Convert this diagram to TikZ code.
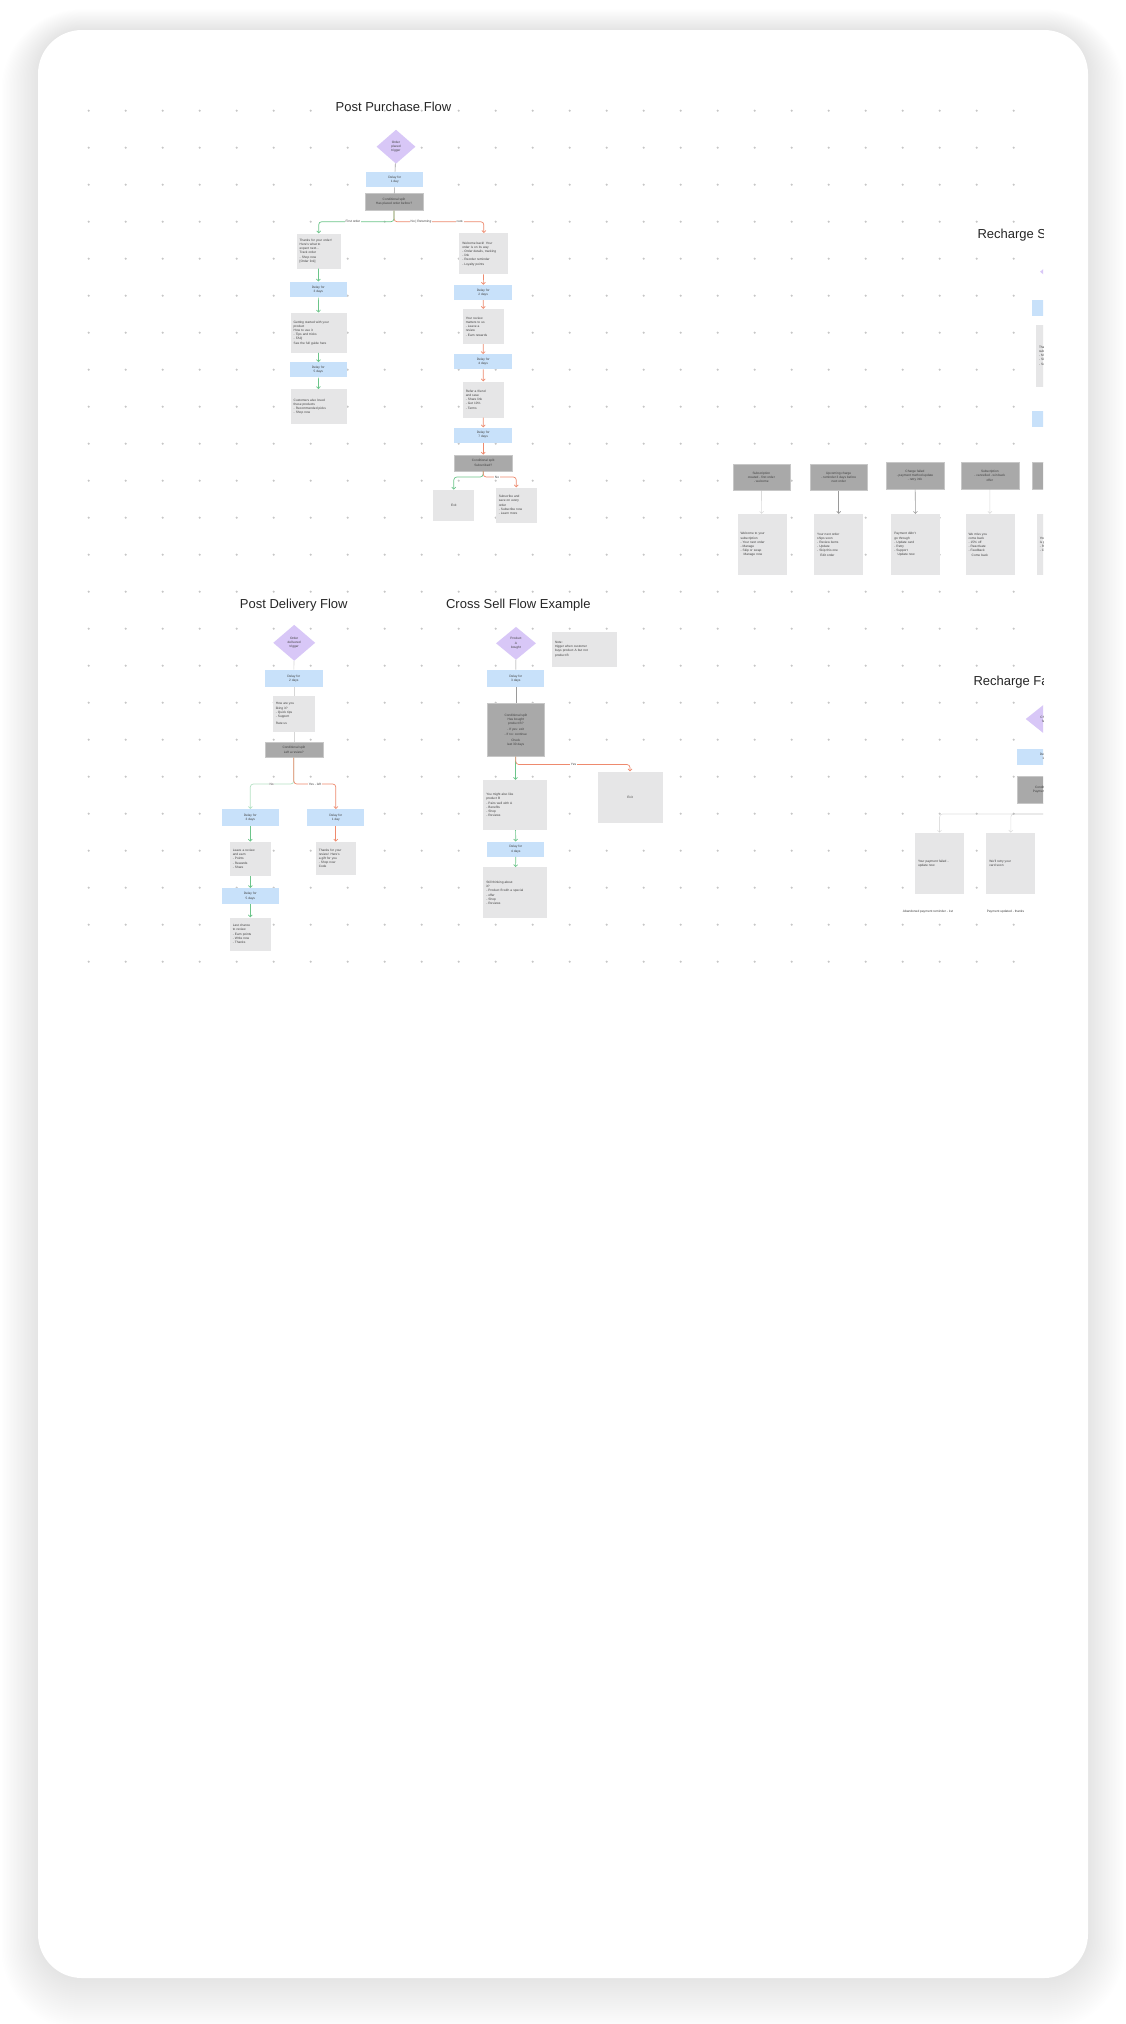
\documentclass[tikz,border=0pt]{standalone}
\usepackage{fontspec}
\setmainfont{Liberation Sans}
\usetikzlibrary{shapes.geometric,arrows.meta}
\definecolor{lav}{HTML}{D8C7F7}
\definecolor{lblue}{HTML}{C8E1FA}
\definecolor{dgrey}{HTML}{A9A9A9}
\definecolor{lgrey}{HTML}{E6E6E7}
\definecolor{dotc}{HTML}{C6C6C6}
\definecolor{grn}{HTML}{6CC58A}
\definecolor{rd}{HTML}{EE8A6E}
\definecolor{lnc}{HTML}{9A9A9A}
\tikzset{
  every node/.style={font=\fontsize{3.2}{4.2}\selectfont, text=black!75},
  ttl/.style={font=\fontsize{13}{15}\selectfont, text=black!85, inner sep=0pt},
  dia/.style={diamond, fill=lav, inner sep=0pt, align=center},
  bbox/.style={rectangle, fill=lblue, inner sep=0pt, align=center},
  dbox/.style={rectangle, fill=dgrey, draw=black!22, line width=0.4, inner sep=0pt, align=center},
  gbox/.style={rectangle, fill=lgrey, inner xsep=3pt, inner ysep=2pt, align=left},
  gb/.style 2 args={gbox, text width=#1, minimum height=#2},
  cn/.style={draw=lnc, line width=0.6},
  cna/.style={cn, -{Straight Barb[length=2pt,width=4pt]}},
  ag/.style={draw=grn, line width=0.7, -{Straight Barb[length=2pt,width=4pt]}},
  ar/.style={draw=rd, line width=0.7, -{Straight Barb[length=2pt,width=4pt]}},
  lbl/.style={fill=white, inner sep=0.6pt, font=\fontsize{3.2}{4}\selectfont},
  captxt/.style={inner sep=0pt, font=\fontsize{3.2}{4}\selectfont}
}
\begin{document}
\begin{tikzpicture}[x=1pt,y=-1pt]
\useasboundingbox (0,0) rectangle (1126,2024);
\fill[white] (0,0) rectangle (1126,2024);
% soft card shadow
\foreach \k in {1,...,26} {
  \fill[black, opacity=0.0028, rounded corners={44+1.4*\k}]
    ({38-1.4*\k},{30-1.4*\k+0.6*\k}) rectangle ({1088+1.4*\k},{1978+1.4*\k+0.6*\k});
}
% card
\fill[white, rounded corners=44] (38,30) rectangle (1088,1978);

\begin{scope}
\clip (38,30) rectangle (1043,1978);
% dot grid
\foreach \i in {0,...,25} {
  \foreach \j in {0,...,23} {
    \fill[dotc] ({88.7+37*\i},{110.7+37*\j}) circle (1.2);
  }
}

% ================= Post Purchase Flow =================
\node[ttl] (ppt) at (393.5,106.7) {Post Purchase Flow};
\node[dia, minimum width=39, minimum height=34] (ppd) at (396,146.7) {Order\\placed\\trigger};
\node[bbox, minimum width=57, minimum height=15.6] (pp1) at (394.7,179.5) {Delay for\\1 day};
\node[dbox, minimum width=58, minimum height=16.7] (pp2) at (394,202) {Conditional split\\Has placed order before?};

\node[gb={38pt}{35pt}] (l1) at (318.7,251) {Thanks for your order!\\Here's what to\\expect next...\\Track order\\- Shop now\\{[}Order link{]}};
\node[bbox, minimum width=57, minimum height=15.6] (l2) at (318.3,289.5) {Delay for\\3 days};
\node[gb={50pt}{40pt}] (l3) at (318.7,332.7) {Getting started with your\\product\\How to use it\\- Tips and tricks\\- FAQ\\See the full guide here};
\node[bbox, minimum width=57, minimum height=15] (l4) at (318.3,369.8) {Delay for\\5 days};
\node[gb={50pt}{35pt}] (l5) at (318.7,406.7) {Customers also loved\\these products\\- Recommended picks\\- Shop now};

\node[gb={43pt}{41pt}] (r1) at (483.8,253.7) {Welcome back! Your\\order is on its way\\- Order details, tracking\\- link\\- Reorder reminder\\- Loyalty points};
\node[bbox, minimum width=58, minimum height=15] (r2) at (483.2,292.5) {Delay for\\2 days};
\node[gb={35pt}{35pt}] (r3) at (483.3,326.5) {Your review\\matters to us\\- Leave a\\review\\- Earn rewards};
\node[bbox, minimum width=58, minimum height=15] (r4) at (483.2,361.7) {Delay for\\4 days};
\node[gb={35pt}{36pt}] (r5) at (483.3,399.5) {Refer a friend\\and save\\- Share link\\- Get 10\%\\- Terms};
\node[bbox, minimum width=58, minimum height=15] (r6) at (483.2,435) {Delay for\\7 days};
\node[dbox, minimum width=58, minimum height=16] (r7) at (483.2,462.8) {Conditional split\\Subscribed?};
\node[gb={35pt}{31pt}, align=center] (r8a) at (453.8,505.3) {Exit};
\node[gb={35pt}{35pt}] (r8b) at (516.3,505) {Subscribe and\\save on every\\order\\- Subscribe now\\- Learn more};

\coordinate (ppb) at (394,221.7);
\draw[ar, rounded corners=3] (pp2.south) -- (ppb) -| (r1.north);
\draw[ag, rounded corners=3] (pp2.south) -- (ppb) -| (l1.north);
\node[lbl] (ppy) at (353,221.7) {First order};
\node[lbl] (ppn) at (421,221.7) {No | Returning};
\node[lbl] (ppn2) at (460,221.7) {cust.};
\draw[cn] (ppd) -- (pp1);
\draw[cn] (pp1) -- (pp2);
\draw[ag] (l1) -- (l2);
\draw[ag] (l2) -- (l3);
\draw[ag] (l3) -- (l4);
\draw[ag] (l4) -- (l5);
\draw[ar] (r1) -- (r2);
\draw[ar] (r2) -- (r3);
\draw[ar] (r3) -- (r4);
\draw[ar] (r4) -- (r5);
\draw[ar] (r5) -- (r6);
\draw[ar] (r6) -- (r7);
\coordinate (r7b) at (483.2,477);
\draw[ag, rounded corners=3] (r7.south) -- (r7b) -| (r8a.north);
\draw[ar, rounded corners=3] (r7.south) -- (r7b) -| (r8b.north);
\node[lbl] (r7n) at (497,477) {No};

% ================= Recharge S =================
\node[ttl, anchor=west] (rst) at (977.3,235) {Recharge Subscription Flow};
\node[dia, minimum width=40, minimum height=33] (rsd) at (1060,271.7) {Sub\\created};
\node[bbox, minimum width=58, minimum height=16] (rs1) at (1061,308) {Delay for\\1 day};
\node[gb={43pt}{62pt}] (rs2) at (1060.5,355.8) {Thanks for\\subscribing\\- Manage\\- Skip\\- Swap};
\node[bbox, minimum width=58, minimum height=16] (rs3) at (1061,418.7) {Delay for\\2 days};
\draw[cn] (rsd) -- (rs1);
\draw[cn] (rs1) -- (rs2);
\draw[cn] (rs2) -- (rs3);

\node[dbox, minimum width=57, minimum height=26] (d1) at (761.3,477.5) {Subscription\\created - first order\\- welcome};
\node[dbox, minimum width=57, minimum height=26] (d2) at (838.7,477.5) {Upcoming charge\\- reminder 3 days before\\next order};
\node[dbox, minimum width=58, minimum height=27] (d3) at (915,475.7) {Charge failed\\- payment method update\\- retry info};
\node[dbox, minimum width=58, minimum height=27] (d4) at (989.8,475.7) {Subscription\\- cancelled - win back\\offer};
\node[dbox, minimum width=58, minimum height=27] (d5) at (1061,475.7) {Subscription\\paused};
\node[gb={43pt}{61pt}] (g1) at (762,544.5) {Welcome to your\\subscription\\- Your next order\\- Manage\\- Skip or swap\\\quad Manage now};
\node[gb={43pt}{61pt}] (g2) at (838.7,544.5) {Your next order\\ships soon\\- Review items\\- Update\\- Skip this one\\\quad Edit order};
\node[gb={43pt}{61pt}] (g3) at (915.8,544.5) {Payment didn't\\go through\\- Update card\\- Retry\\- Support\\\quad Update now};
\node[gb={43pt}{61pt}] (g4) at (990,544.5) {We miss you\\come back\\- 15\% off\\- Reactivate\\- Feedback\\\quad Come back};
\node[gb={43pt}{61pt}] (g5) at (1061.3,544.5) {Your plan\\is paused\\- Resume\\- Change};
\draw[cna, draw opacity=0.35] (d1) -- (g1);
\draw[cna] (d2) -- (g2);
\draw[cna] (d3) -- (g3);
\draw[cna, draw opacity=0.35] (d4) -- (g4);
\draw[cna] (d5) -- (g5);

% ================= Post Delivery Flow =================
\node[ttl] (pdt) at (293.8,605) {Post Delivery Flow};
\node[dia, minimum width=42, minimum height=36] (pdd) at (294.2,642.8) {Order\\delivered\\trigger};
\node[bbox, minimum width=58, minimum height=17] (pd1) at (293.8,678.3) {Delay for\\2 days};
\node[gb={36pt}{36pt}] (pd2) at (293.8,713.8) {How are you\\liking it?\\- Quick tips\\- Support\\[3pt]Rate us};
\node[dbox, minimum width=58, minimum height=15] (pd3) at (293.8,749.8) {Conditional split\\Left a review?};
\node[bbox, minimum width=57, minimum height=17] (pdl1) at (250.3,817.7) {Delay for\\3 days};
\node[gb={35pt}{34pt}] (pdl2) at (250.3,858.8) {Leave a review\\and earn\\- Points\\- Rewards\\- Share};
\node[bbox, minimum width=57, minimum height=16] (pdl3) at (250.3,896.2) {Delay for\\5 days};
\node[gb={35pt}{33pt}] (pdl4) at (250.3,934) {Last chance\\to review\\- Earn points\\- Write now\\- Thanks};
\node[bbox, minimum width=57, minimum height=17] (pdr1) at (335.8,817.7) {Delay for\\1 day};
\node[gb={34pt}{33pt}] (pdr2) at (335.8,858.3) {Thanks for your\\review! Here's\\a gift for you\\- Shop now\\Code};
\draw[cn, draw opacity=0.4] (pdd) -- (pd1);
\draw[cn, draw opacity=0.4] (pd1) -- (pd2);
\draw[cn, draw opacity=0.4] (pd2) -- (pd3);
\coordinate (pdb) at (293.8,784);
\draw[ag, draw opacity=0.5, rounded corners=3] (pd3.south) -- (pdb) -| (pdl1.north);
\draw[ar, rounded corners=3] (pd3.south) -- (pdb) -| (pdr1.north);
\node[lbl] (pdy) at (271.7,784) {No};
\node[lbl] (pdn) at (315,784) {Yes - left};
\draw[ar] (pdr1) -- (pdr2);
\draw[ag] (pdl1) -- (pdl2);
\draw[ag] (pdl2) -- (pdl3);
\draw[ag] (pdl3) -- (pdl4);

% ================= Cross Sell Flow Example =================
\node[ttl] (cst) at (518.3,605) {Cross Sell Flow Example};
\node[dia, minimum width=40, minimum height=33] (csd) at (516,643.3) {Product\\A\\bought};
\node[gb={59pt}{35pt}] (csn) at (584.5,649) {Note:\\trigger when customer\\buys product A but not\\product B};
\node[bbox, minimum width=57, minimum height=17] (cs1) at (515.8,678.3) {Delay for\\3 days};
\node[dbox, minimum width=57, minimum height=53] (cs2) at (515.8,730) {Conditional split\\Has bought\\product B?\\[2pt]- If yes: exit\\- If no: continue\\[2pt]Check\\last 30 days};
\node[gb={58pt}{50pt}] (cs3) at (515.3,805) {You might also like\\product B\\- Pairs well with A\\- Benefits\\- Shop\\- Reviews};
\node[bbox, minimum width=57, minimum height=15] (cs4) at (515.8,849.2) {Delay for\\4 days};
\node[gb={58pt}{51pt}] (cs5) at (515.3,892.8) {Still thinking about\\it?\\- Product B with a special\\- offer\\- Shop\\- Reviews};
\node[gb={59pt}{51pt}, align=center] (csr) at (630,797) {Exit};
\draw[cn] (csd) -- (cs1);
\draw[cn] (cs1) -- (cs2);
\draw[ag] (cs2) -- (cs3);
\draw[ag] (cs3) -- (cs4);
\draw[ag] (cs4) -- (cs5);
\coordinate (csb) at (515.8,764.5);
\draw[ar, rounded corners=3] (cs2.south) -- (csb) -| (csr.north);
\node[lbl] (csy) at (573.6,764.5) {Yes};

% ================= Recharge Fa =================
\node[ttl, anchor=west] (rft) at (973.3,681.7) {Recharge Failed Payment Flow};
\node[dia, minimum width=40, minimum height=32] (rfd) at (1045.7,719) {Charge\\failed};
\node[bbox, minimum width=58, minimum height=16] (rf1) at (1046.3,757) {Delay for\\1 day};
\node[dbox, minimum width=58, minimum height=27] (rf2) at (1046.3,790) {Conditional split\\Payment updated?};
\node[gb={43pt}{61pt}] (rfa) at (939.5,863.3) {Your payment failed -\\update now};
\node[gb={43pt}{61pt}] (rfb) at (1010.8,863.3) {We'll retry your\\card soon};
\draw[cn] (rfd) -- (rf1);
\draw[cn] (rf1) -- (rf2);
\coordinate (rfc) at (1046.3,814);
\draw[cna, draw opacity=0.3, rounded corners=3] (rf2.south) -- (rfc) -| (rfa.north);
\draw[cna, draw opacity=0.3, rounded corners=3] (rf2.south) -- (rfc) -| (rfb.north);
\node[captxt] (rfca) at (928,911.7) {Abandoned payment reminder - 1st};
\node[captxt] (rfcb) at (1005.5,911.7) {Payment updated - thanks};
\end{scope}
\end{tikzpicture}
\end{document}
